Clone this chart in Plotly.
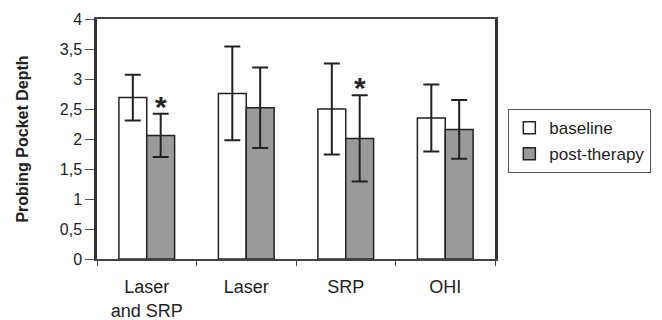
import plotly.graph_objects as go

categories = ["Laser<br>and SRP", "Laser", "SRP", "OHI"]
baseline = [2.69, 2.76, 2.50, 2.35]
baseline_err = [0.38, 0.78, 0.76, 0.56]
post = [2.06, 2.52, 2.01, 2.16]
post_err = [0.36, 0.67, 0.72, 0.49]
significant = [True, False, True, False]
y_ticks = [0, 0.5, 1, 1.5, 2, 2.5, 3, 3.5, 4]
y_tick_labels = ["0", "0,5", "1", "1,5", "2", "2,5", "3", "3,5", "4"]

font = "Liberation Sans, Arial, sans-serif"

fig = go.Figure()
fig.add_trace(go.Bar(
    name="baseline", x=categories, y=baseline, legendgroup="a",
    marker=dict(color="white", line=dict(color="#222222", width=1.5)),
    error_y=dict(type="data", array=baseline_err, color="#222222", thickness=2, width=8),
))
fig.add_trace(go.Bar(
    name="post-therapy", x=categories, y=post, legendgroup="b",
    marker=dict(color="#9a9a9a", line=dict(color="#222222", width=1.5)),
    error_y=dict(type="data", array=post_err, color="#222222", thickness=2, width=8),
))

for c, v, e, s in zip(categories, post, post_err, significant):
    if s:
        fig.add_annotation(x=c, y=v + e, text="<b>*</b>", showarrow=False, xshift=14,
                           yanchor="bottom", yshift=-11,
                           font=dict(family=font, size=30, color="#222222"))

fig.update_layout(
    width=654, height=312,
    margin=dict(l=89, r=167, t=11, b=61, autoexpand=False),
    paper_bgcolor="white", plot_bgcolor="white",
    barmode="group", bargap=0.44, bargroupgap=0,
    font=dict(family=font, size=15, color="#222222"),
    legend=dict(x=1.033, y=0.625, xanchor="left", yanchor="top",
                bordercolor="#555555", borderwidth=1.2,
                font=dict(family=font, size=17, color="#222222"),
                itemwidth=30, traceorder="grouped", tracegroupgap=1),
    showlegend=True,
)
fig.update_xaxes(
    type="category", showline=True, linecolor="#444444", linewidth=1.5, mirror=True,
    automargin=False,
    ticks="outside", tickson="boundaries", ticklen=5, tickcolor="#444444",
    ticklabelstandoff=11,
    tickfont=dict(family=font, size=18, color="#222222"),
)
fig.update_yaxes(
    range=[0, 4], tickvals=y_ticks, ticktext=y_tick_labels,
    showline=True, linecolor="#333333", linewidth=2.5, mirror=True,
    ticks="outside", ticklen=9, tickcolor="#555555", showgrid=False, zeroline=False,
    tickfont=dict(family=font, size=16, color="#222222"),
    title=dict(text="<b>Probing Pocket Depth</b>", font=dict(family=font, size=16, color="#222222"), standoff=28),
)

fig.write_html("out.html")
